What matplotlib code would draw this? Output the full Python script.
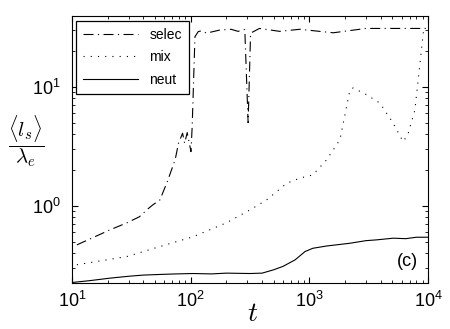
import matplotlib
matplotlib.use('Agg')
import matplotlib.pyplot as plt

plt.rcParams.update({
    'font.family': ['Liberation Sans', 'DejaVu Sans'],
    'mathtext.fontset': 'custom',
    'mathtext.rm': 'Liberation Sans',
    'mathtext.it': 'Liberation Sans:italic',
    'xtick.direction': 'in', 'ytick.direction': 'in',
    'xtick.top': True, 'ytick.right': True,
})

# selec curve
t_selec = [11, 21, 29, 37, 44, 48, 55, 63, 74, 79, 85.5, 89, 93.5, 100.6, 103,
           108.7, 116, 124, 136, 177, 219, 251, 286, 305, 320, 380, 563, 832,
           1590, 3000, 6000, 10000]
y_selec = [0.47, 0.63, 0.72, 0.81, 0.95, 1.02, 1.12, 1.56, 2.44, 3.36, 4.08, 3.36,
           4.13, 2.86, 4.63, 26.4, 29.2, 29.6, 28.3, 30.1, 30.5, 29.3, 30.4, 5.0,
           28.3, 31.0, 29.3, 30.5, 28.5, 31.0, 31.0, 31.0]

# mix curve
t_mix = [11, 29, 55, 105, 200, 316, 436, 646, 832, 1070, 1400, 1810, 2060, 2200,
         2340, 3040, 3940, 5090, 6170, 6760, 7760, 8510, 9120, 9600]
y_mix = [0.32, 0.375, 0.455, 0.55, 0.72, 0.925, 1.12, 1.55, 1.71, 1.82, 2.44, 3.59,
         6.8, 9.4, 9.8, 8.6, 7.3, 4.96, 3.47, 3.95, 6.4, 14.8, 28.3, 31.0]

# neut curve
t_neut = [10, 14, 21, 30, 40, 60, 76, 105, 150, 200, 316, 400, 500, 600, 760,
          920, 1070, 1400, 2200, 3000, 3700, 5100, 6500, 8000, 10000]
y_neut = [0.227, 0.235, 0.247, 0.256, 0.262, 0.266, 0.268, 0.27, 0.268, 0.272,
          0.27, 0.272, 0.29, 0.31, 0.352, 0.413, 0.44, 0.46, 0.485, 0.51, 0.518,
          0.535, 0.53, 0.545, 0.545]

fig = plt.figure(figsize=(4.5, 3.29), dpi=100)
ax = fig.add_axes([0.16, 0.14, 0.791, 0.8116])

ax.plot(t_selec, y_selec, color='black', lw=0.8, dashes=(9, 4, 1, 4), label='selec')
ax.plot(t_mix, y_mix, color='black', lw=0.8, dashes=(1, 5.5), label='mix')
ax.plot(t_neut, y_neut, color='black', lw=0.8, label='neut')

ax.set_xscale('log')
ax.set_yscale('log')
ax.set_xlim(10, 1e4)
ax.set_ylim(0.225, 39.5)

ax.tick_params(which='major', length=4, labelsize=13)
ax.tick_params(axis='x', which='major', pad=6)
ax.tick_params(axis='y', which='major', pad=8)
ax.tick_params(which='minor', length=2)

ax.set_xlabel('$t$', fontsize=20, math_fontfamily='cm')
ax.xaxis.set_label_coords(0.506, -0.116)
ax.xaxis.label.set_verticalalignment('center')
ax.set_ylabel(r'$\dfrac{\langle l_s \rangle}{\lambda_e}$', fontsize=15,
              rotation=0, math_fontfamily='cm')
ax.yaxis.set_label_coords(-0.128, 0.528)
ax.yaxis.label.set_verticalalignment('center')

ax.text(0.942, 0.08, '(c)', transform=ax.transAxes, ha='center', va='center',
        fontsize=13)

leg = ax.legend(loc='upper left', bbox_to_anchor=(0.011, 0.981), borderaxespad=0,
                fontsize=10, handlelength=4.0, handletextpad=0.8,
                labelspacing=0.6, borderpad=0.5, fancybox=False, framealpha=1,
                edgecolor='black')
leg.get_frame().set_linewidth(0.9)

fig.savefig('out.png', dpi=100)
